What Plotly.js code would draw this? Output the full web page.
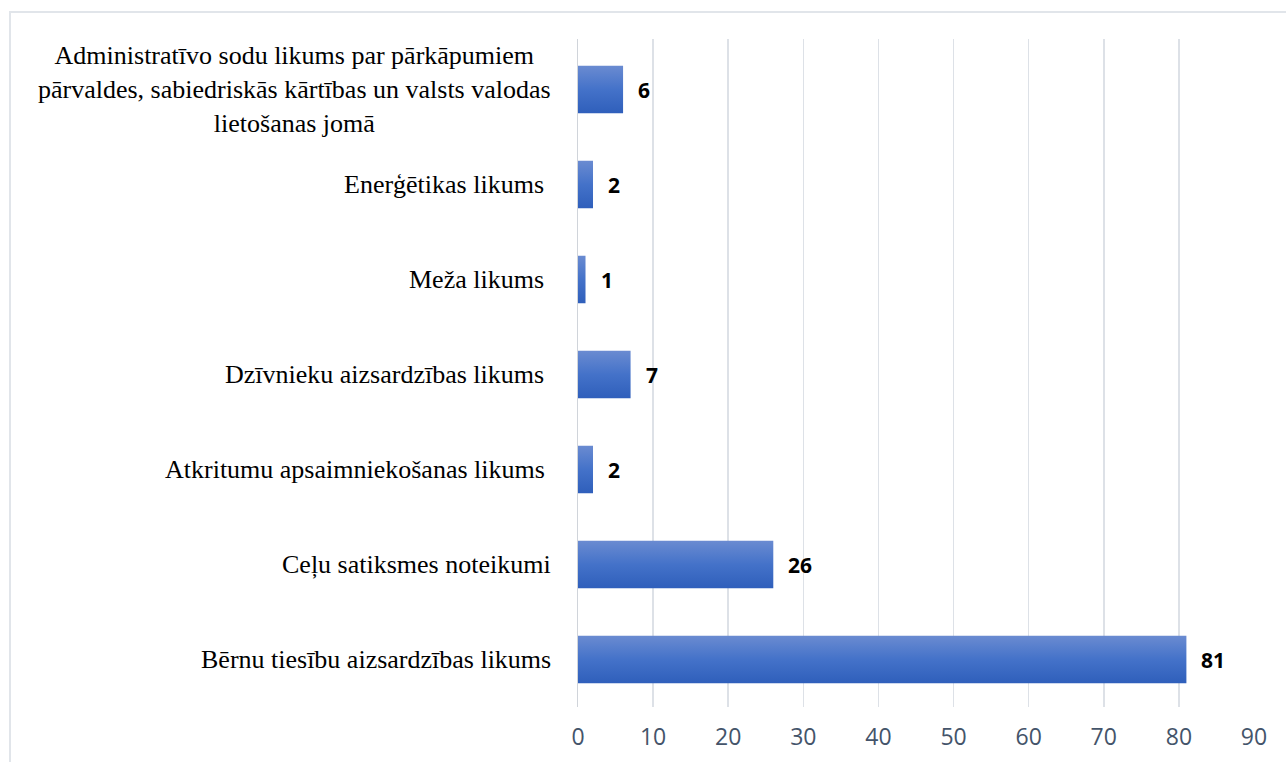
<!DOCTYPE html>
<html>
<head>
<meta charset="utf-8">
<script src="https://cdn.plot.ly/plotly-3.0.1.min.js"></script>
<style>
html,body{margin:0;padding:0;background:#fff;}
#wrap{position:relative;width:1286px;height:762px;overflow:hidden;}
#chart{position:absolute;left:0;top:0;width:1286px;height:762px;}
#frame{position:absolute;left:9px;top:11px;width:1300px;height:800px;border:2px solid #e1e5ea;pointer-events:none;}
</style>
</head>
<body>
<div id="wrap"><div id="frame"></div><div id="chart"></div></div>
<script>
const categories = [
  "Administratīvo sodu likums par pārkāpumiem<br>pārvaldes, sabiedriskās kārtības un valsts valodas<br>lietošanas jomā",
  "Enerģētikas likums\u00a0",
  "Meža likums\u00a0",
  "Dzīvnieku aizsardzības likums\u00a0",
  "Atkritumu apsaimniekošanas likums\u00a0",
  "Ceļu satiksmes noteikumi",
  "Bērnu tiesību aizsardzības likums"
];
const values = [6, 2, 1, 7, 2, 26, 81];
const xTicks = [0, 10, 20, 30, 40, 50, 60, 70, 80, 90];

const ids = categories.map((c, i) => "c" + i);

const trace = {
  type: "bar",
  orientation: "h",
  x: values,
  y: ids,
  width: 0.5,
  marker: {color: "#4472c6", line: {width: 0}},
  hoverinfo: "none"
};

const annotations = [];
categories.forEach((c, i) => {
  annotations.push({
    x: 0, y: ids[i], xref: "x", yref: "y",
    xanchor: "right", yanchor: "middle", xshift: -25,
    text: c, showarrow: false, align: "center",
    font: {family: "Liberation Serif, Times New Roman, serif", size: 26, color: "#000"}
  });
  annotations.push({
    x: values[i], y: ids[i], xref: "x", yref: "y",
    xanchor: "left", yanchor: "middle", xshift: 13,
    text: "<b>" + values[i] + "</b>", showarrow: false,
    font: {family: "Open Sans, Lato, sans-serif", size: 21, color: "#000"}
  });
});

const layout = {
  width: 1286, height: 762,
  paper_bgcolor: "rgba(0,0,0,0)",
  plot_bgcolor: "rgba(0,0,0,0)",
  margin: {l: 578, r: 32, t: 39, b: 55},
  showlegend: false,
  bargap: 0.5,
  xaxis: {
    range: [0, 90],
    tickvals: xTicks,
    ticktext: xTicks.map(String),
    showgrid: true, gridcolor: "#dde1e7", gridwidth: 1.5,
    zeroline: false, showline: false,
    ticks: "", ticklabelstandoff: 14,
    tickfont: {family: "Open Sans, Lato, sans-serif", size: 23, color: "#44546a"},
    fixedrange: true
  },
  yaxis: {
    type: "category",
    categoryorder: "array", categoryarray: ids,
    autorange: "reversed",
    showticklabels: false,
    showgrid: false, zeroline: false,
    showline: true, linecolor: "#d0d4da", linewidth: 1.5,
    ticks: "", fixedrange: true
  },
  annotations: annotations
};

Plotly.newPlot("chart", [trace], layout, {displayModeBar: false, staticPlot: true}).then(function (gd) {
  const svgNS = "http://www.w3.org/2000/svg";
  const svg = gd.querySelector("svg.main-svg");
  let defs = svg.querySelector("defs");
  if (!defs) { defs = document.createElementNS(svgNS, "defs"); svg.insertBefore(defs, svg.firstChild); }
  const grad = document.createElementNS(svgNS, "linearGradient");
  grad.setAttribute("id", "barGrad");
  grad.setAttribute("x1", "0"); grad.setAttribute("y1", "0");
  grad.setAttribute("x2", "0"); grad.setAttribute("y2", "1");
  [["0", "#6a8bd1"], ["0.5", "#4472c9"], ["1", "#2f5fbb"]].forEach(function (s) {
    const st = document.createElementNS(svgNS, "stop");
    st.setAttribute("offset", s[0]);
    st.setAttribute("stop-color", s[1]);
    grad.appendChild(st);
  });
  defs.appendChild(grad);
  gd.querySelectorAll(".bars .point path").forEach(function (p) {
    p.style.fill = "url(#barGrad)";
  });
});
</script>
</body>
</html>
